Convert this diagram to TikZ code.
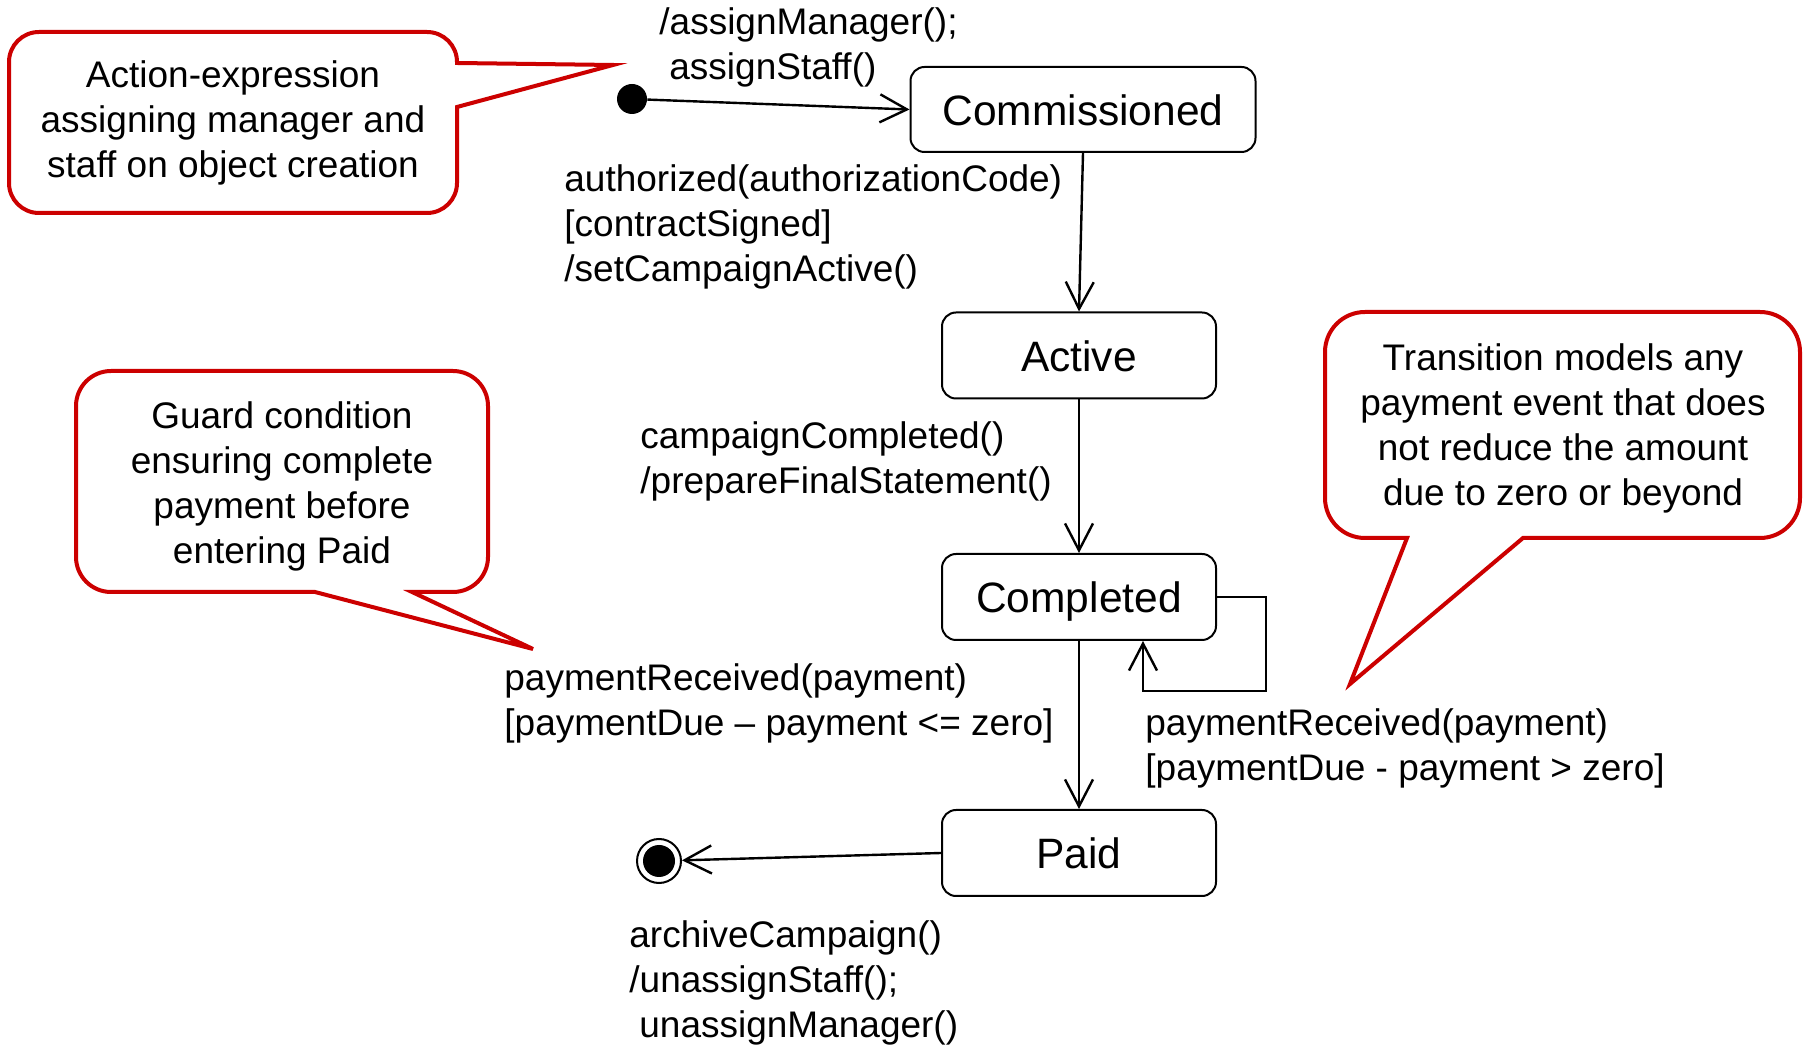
\documentclass[tikz,border=0pt]{standalone}
\usepackage{fontspec}
\setmainfont{Liberation Sans}
\usetikzlibrary{arrows.meta}
\definecolor{calloutred}{RGB}{204,0,0}
\begin{document}
\begin{tikzpicture}[x=0.5pt,y=-0.5pt,
  stbox/.style={draw, line width=1pt, rounded corners=7pt, minimum width=137pt,
    minimum height=43pt, inner sep=0pt, text height=16pt, text depth=0pt,
    font=\fontsize{21.25pt}{25pt}\selectfont},
  lbl/.style={anchor=west, align=left, inner sep=0pt,
    font=\fontsize{18.5pt}{22.5pt}\selectfont},
  note/.style={align=center, inner sep=0pt, font=\fontsize{18.5pt}{22.5pt}\selectfont},
  trans/.style={line width=1.2pt,
    -{Straight Barb[length=13.5pt,width=14pt,line width=1.2pt]}},
  bubble/.style={draw=calloutred, line width=2pt, line join=miter, fill=white},
]
% canvas
\fill[white] (0,0) rectangle (1806,1052);
\useasboundingbox (0,0) rectangle (1806,1052);

% callout outlines
\draw[bubble] (39,32) -- (427,32) arc[start angle=90,end angle=0,radius=15pt]
  -- (457,63) -- (613,65) -- (457,107) -- (457,183)
  arc[start angle=0,end angle=-90,radius=15pt] -- (39,213)
  arc[start angle=270,end angle=180,radius=15pt] -- (9,62)
  arc[start angle=180,end angle=90,radius=15pt] -- cycle;
\draw[bubble] (111,371) -- (453,371) arc[start angle=90,end angle=0,radius=17.5pt]
  -- (488,557) arc[start angle=0,end angle=-90,radius=17.5pt]
  -- (412,592) -- (533,649) -- (315,592) -- (111,592)
  arc[start angle=270,end angle=180,radius=17.5pt] -- (76,406)
  arc[start angle=180,end angle=90,radius=17.5pt] -- cycle;
\draw[bubble] (1365,312) -- (1760,312) arc[start angle=90,end angle=0,radius=20pt]
  -- (1800,498) arc[start angle=0,end angle=-90,radius=20pt]
  -- (1523,538) -- (1350,684) -- (1407,538) -- (1365,538)
  arc[start angle=270,end angle=180,radius=20pt] -- (1325,352)
  arc[start angle=180,end angle=90,radius=20pt] -- cycle;

% callout texts
\node[note] (n1) at (233,123) {Action-expression\\assigning manager and\\staff on object creation};
\node[note] (n2) at (282,486) {Guard condition\\ensuring complete\\payment before\\entering Paid};
\node[note] (n3) at (1563,428) {Transition models any\\payment event that does\\not reduce the amount\\due to zero or beyond};

% states
\node[stbox, minimum width=172.5pt, minimum height=42.5pt] (comm) at (1083,109.5) {Commissioned};
\node[stbox] (active) at (1079,355.5) {Active};
\node[stbox] (compl) at (1079,597) {Completed};
\node[stbox] (paid) at (1079,853) {Paid};

% pseudo states
\node[circle, fill=black, minimum size=15pt, inner sep=0pt] (init) at (632,99) {};
\node[circle, draw, line width=1pt, minimum size=22pt, inner sep=0pt] (final) at (659,861) {};
\node[circle, fill=black, minimum size=16pt, inner sep=0pt] (finaldot) at (final) {};

% transitions
\draw[trans] (init) -- (comm.west);
\draw[trans] (comm.south) -- (active.north);
\draw[trans] (active.south) -- (compl.north);
\draw[trans] (compl.south) -- (paid.north);
\draw[trans] (paid.west) -- (final);
\coordinate (loopA) at (1266,691);
\coordinate (loopB) at (1143,691);
\draw[trans] (compl.east) -| (loopA) -- (loopB) -- (loopB |- compl.south);

% transition labels
\node[lbl] (l1) at (659,47.5) {/assignManager();\\\hspace*{.27em}assignStaff()};
\node[lbl] (l2) at (564,227) {authorized(authorizationCode)\\{[contractSigned]}\\/setCampaignActive()};
\node[lbl] (l3) at (640,461) {campaignCompleted()\\/prepareFinalStatement()};
\node[lbl] (l4) at (504,703) {paymentReceived(payment)\\{[paymentDue – payment <= zero]}};
\node[lbl] (l5) at (1145,748) {paymentReceived(payment)\\{[paymentDue - payment > zero]}};
\node[lbl] (l6) at (629,982.5) {archiveCampaign()\\/unassignStaff();\\\hspace*{.27em}unassignManager()};
\end{tikzpicture}
\end{document}
